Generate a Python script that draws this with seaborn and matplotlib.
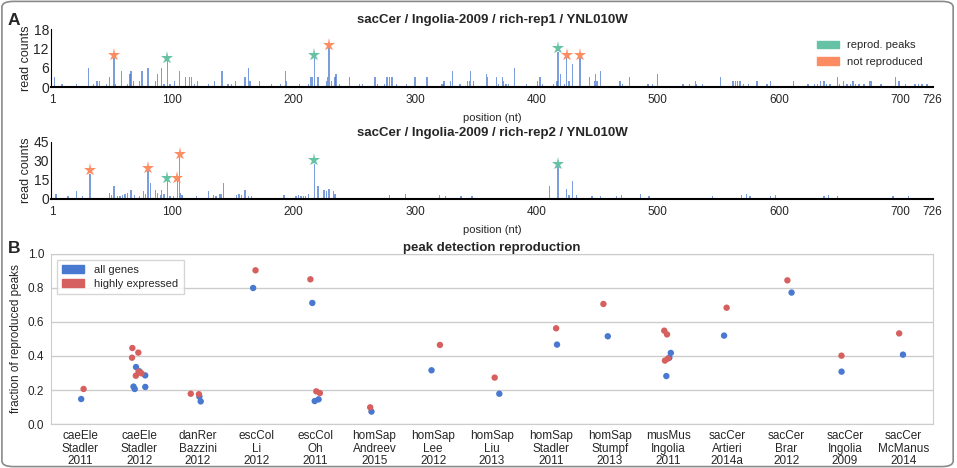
import numpy as np
import pandas as pd
import seaborn as sns
import matplotlib.pyplot as plt
from matplotlib.patches import Patch, FancyBboxPatch

sns.set_style("white")
plt.rcParams["font.family"] = ["Liberation Sans", "DejaVu Sans"]

BLUE = "#4878CF"
RED = "#D65F5F"
GREEN = "#66c2a5"
ORANGE = "#fc8d62"

# ---- panel A data: read counts per position (nt) ----
rep1_pos = [3, 9, 21, 31, 35, 38, 40, 46, 48, 52, 53, 58, 63, 65, 66, 68, 73, 75, 80, 86,
            88, 91, 93, 96, 98, 102, 106, 111, 114, 116, 118, 121, 130, 135, 141, 146, 149,
            152, 160, 163, 164, 172, 182, 189, 193, 194, 205, 212, 214, 215, 217, 220, 227,
            228, 229, 231, 234, 235, 238, 246, 254, 257, 267, 269, 275, 277, 279, 281, 285,
            293, 300, 310, 322, 323, 324, 329, 331, 337, 343, 345, 346, 348, 359, 360, 367,
            369, 372, 373, 375, 377, 382, 392, 401, 403, 405, 414, 417, 418, 420, 423, 425,
            427, 430, 436, 444, 448, 449, 450, 453, 469, 471, 477, 492, 496, 500, 521, 526,
            531, 532, 537, 552, 562, 564, 566, 568, 571, 575, 582, 590, 593, 612, 624, 629,
            632, 634, 637, 639, 642, 648, 650, 653, 656, 659, 661, 663, 666, 670, 675, 676,
            684, 696, 699, 704, 712, 715, 718, 722]
rep1_cnt = [3, 1, 1, 6, 1, 2, 2, 1, 3, 9, 1, 5, 1, 4, 5, 2, 2, 5, 6, 2,
            4, 6, 1, 8, 1, 2, 5, 3, 3, 3, 1, 2, 1, 2, 5, 1, 1,
            2, 3, 6, 2, 2, 1, 1, 5, 2, 1, 1, 3, 3, 9, 3, 2,
            3, 12, 2, 3, 4, 1, 3, 1, 1, 3, 1, 1, 3, 3, 3, 1,
            1, 3, 3, 1, 1, 2, 2, 5, 1, 2, 2, 5, 2, 4, 3, 3,
            1, 3, 2, 1, 1, 6, 1, 2, 3, 1, 1, 2, 11, 4, 1, 9,
            2, 7, 9, 3, 2, 4, 2, 5, 2, 1, 3, 1, 1, 4, 1, 1,
            2, 1, 1, 3, 2, 2, 2, 2, 1, 1, 2, 1, 2, 2, 1, 1,
            1, 2, 2, 1, 1, 3, 1, 2, 1, 1, 2, 1, 1, 1, 2, 2,
            1, 3, 2, 1, 1, 1, 1, 1]
rep1_reprod = [96, 217, 418]
rep1_notrep = [52, 229, 425, 436]

rep2_pos = [4, 7, 10, 14, 17, 21, 26, 28, 32, 36, 40, 43, 46, 48, 50, 52, 55, 57, 59, 61,
            63, 66, 69, 73, 76, 78, 80, 82, 86, 88, 90, 91, 93, 96, 98, 101, 104, 106, 107,
            108, 114, 117, 120, 130, 134, 136, 139, 140, 142, 150, 153, 155, 157, 160, 163,
            165, 168, 175, 183, 192, 198, 202, 204, 206, 208, 210, 212, 214, 217, 220, 225,
            227, 229, 233, 234, 238, 244, 250, 255, 260, 266, 272, 279, 285, 292, 296, 300,
            305, 310, 315, 320, 325, 330, 336, 338, 342, 347, 352, 358, 366, 372, 380, 388,
            395, 403, 407, 411, 418, 425, 427, 430, 433, 438, 446, 449, 453, 462, 466, 470,
            475, 486, 489, 493, 496, 500, 507, 515, 522, 530, 538, 545, 548, 555, 563, 569,
            573, 576, 583, 588, 593, 597, 605, 612, 618, 625, 630, 637, 641, 644, 648, 655,
            662, 670, 680, 689, 694, 700, 707, 712, 716, 719, 722, 724]
rep2_cnt = [4, 1, 1, 2, 1, 6, 2, 1, 20, 1, 1, 1, 1, 5, 3, 10, 2, 2, 3, 4,
            5, 7, 3, 2, 6, 4, 22, 13, 7, 5, 3, 7, 4, 14, 2, 2, 14, 33, 5,
            3, 1, 1, 2, 6, 3, 2, 4, 4, 13, 1, 3, 4, 3, 7, 2,
            2, 1, 1, 1, 3, 1, 2, 3, 2, 2, 2, 4, 1, 28, 10, 7,
            6, 8, 6, 4, 1, 1, 1, 1, 1, 1, 1, 3, 1, 4, 1, 1,
            1, 1, 1, 3, 2, 1, 1, 2, 1, 2, 1, 1, 1, 1, 1, 1,
            1, 1, 1, 10, 25, 8, 3, 14, 3, 1, 2, 1, 2, 1, 2, 3,
            1, 4, 1, 2, 1, 1, 1, 1, 1, 1, 1, 2, 1, 1, 1, 3,
            4, 2, 1, 1, 2, 3, 1, 1, 1, 1, 1, 2, 3, 1, 2, 1,
            1, 1, 1, 1, 2, 1, 2, 1, 1, 1, 1, 1]
rep2_reprod = [96, 217, 418]
rep2_notrep = [32, 80, 104, 106]

pos_ticks = [1, 100, 200, 300, 400, 500, 600, 700, 726]

# ---- panel B data ----
studies = ["caeEle\nStadler\n2011", "caeEle\nStadler\n2012", "danRer\nBazzini\n2012",
           "escCol\nLi\n2012", "escCol\nOh\n2011", "homSap\nAndreev\n2015",
           "homSap\nLee\n2012", "homSap\nLiu\n2013", "homSap\nStadler\n2011",
           "homSap\nStumpf\n2013", "musMus\nIngolia\n2011", "sacCer\nArtieri\n2014a",
           "sacCer\nBrar\n2012", "sacCer\nIngolia\n2009", "sacCer\nMcManus\n2014"]
all_genes = [[0.147], [0.335, 0.31, 0.286, 0.218, 0.22, 0.206], [0.133, 0.161],
             [0.80], [0.712, 0.145, 0.135], [0.073], [0.316], [0.178], [0.467],
             [0.516], [0.418, 0.39, 0.282], [0.520], [0.773], [0.308], [0.408]]
highly_expr = [[0.206], [0.447, 0.42, 0.39, 0.308, 0.298, 0.284], [0.178, 0.175],
               [0.904], [0.851, 0.192, 0.182], [0.098], [0.465], [0.273], [0.563],
               [0.706], [0.549, 0.527, 0.385, 0.373], [0.684], [0.845], [0.402], [0.533]]

rows = []
for s, a, h in zip(studies, all_genes, highly_expr):
    rows += [(s, v, "all genes") for v in a]
    rows += [(s, v, "highly expressed") for v in h]
df = pd.DataFrame(rows, columns=["study", "fraction", "set"])

fig = plt.figure(figsize=(9.57, 4.68), dpi=100)
ax1 = fig.add_axes([0.0533, 0.814, 0.9217, 0.124])
ax2 = fig.add_axes([0.0533, 0.5748, 0.9217, 0.1218])
ax3 = fig.add_axes([0.0533, 0.094, 0.9217, 0.3633])


def plot_track(ax, pos, cnt, reprod, notrep, ymax, title):
    ax.bar(pos, cnt, width=1.1, color=BLUE, alpha=0.72, linewidth=0)
    h = dict(zip(pos, cnt))
    off = 0.06 * ymax
    ax.plot(reprod, [h[p] + off for p in reprod], "*", color=GREEN, ms=9.5, mew=0)
    ax.plot(notrep, [h[p] + off for p in notrep], "*", color=ORANGE, ms=9.5, mew=0)
    ax.set_xlim(0, 727)
    ax.set_ylim(0, ymax)
    ax.set_yticks(np.linspace(0, ymax, 4))
    ax.set_xticks(pos_ticks)
    sns.despine(ax=ax)
    for sp in ["left", "bottom"]:
        ax.spines[sp].set_color("black")
    ax.spines["bottom"].set_linewidth(1.5)
    ax.tick_params(length=0)
    ax.tick_params(axis="y", labelsize=10, pad=1.5)
    ax.tick_params(axis="x", labelsize=8.5, pad=5)
    ax.set_ylabel("read counts", fontsize=9, labelpad=1)
    ax.set_xlabel("position (nt)", fontsize=8, labelpad=5)
    ax.set_title(title, fontsize=9.5, fontweight="bold", pad=4.5)


plot_track(ax1, rep1_pos, rep1_cnt, rep1_reprod, rep1_notrep, 18,
           "sacCer / Ingolia-2009 / rich-rep1 / YNL010W")
plot_track(ax2, rep2_pos, rep2_cnt, rep2_reprod, rep2_notrep, 45,
           "sacCer / Ingolia-2009 / rich-rep2 / YNL010W")
ax1.legend(handles=[Patch(color=GREEN, label="reprod. peaks"),
                    Patch(color=ORANGE, label="not reproduced")],
           loc="upper right", bbox_to_anchor=(0.993, 0.88), borderaxespad=0,
           frameon=False, fontsize=8, handlelength=2.0, handleheight=0.7,
           handletextpad=0.7, labelspacing=0.55)

np.random.seed(3)
sns.stripplot(data=df, x="study", y="fraction", hue="set", order=studies,
              hue_order=["all genes", "highly expressed"], palette=[BLUE, RED],
              jitter=0.13, size=4.6, linewidth=0, legend=False, ax=ax3)
ax3.set_xlim(-0.5, len(studies) - 0.5)
ax3.set_ylim(0, 1.0)
ax3.set_yticks(np.arange(0, 1.01, 0.2))
ax3.set_yticklabels([f"{v:.1f}" for v in np.arange(0, 1.01, 0.2)])
ax3.yaxis.grid(True, color="#cccccc", lw=1)
ax3.set_axisbelow(True)
for sp in ax3.spines.values():
    sp.set_color("#cccccc")
ax3.tick_params(length=0)
ax3.tick_params(axis="y", labelsize=8.5, pad=5)
ax3.tick_params(axis="x", labelsize=8.5, pad=4.5)
ax3.set_xlabel("")
ax3.set_ylabel("fraction of reproduced peaks", fontsize=8.5, labelpad=4)
ax3.set_title("peak detection reproduction", fontsize=9.5, fontweight="bold", pad=2.5)
for t in ax3.get_xticklabels():
    t.set_linespacing(1.05)
ax3.legend(handles=[Patch(color=BLUE, label="all genes"),
                    Patch(color=RED, label="highly expressed")],
           loc="upper left", bbox_to_anchor=(0.007, 0.965), borderaxespad=0,
           frameon=True, fancybox=False, edgecolor="#cccccc", fontsize=8,
           borderpad=0.45, handlelength=2.0, handleheight=0.7,
           handletextpad=0.9, labelspacing=0.35)

fig.text(0.008, 0.957, "A", fontsize=12.5, fontweight="bold", va="center")
fig.text(0.008, 0.469, "B", fontsize=12.5, fontweight="bold", va="center")
fig.patches.append(FancyBboxPatch((0.002, 0.003), 0.994, 0.994,
                                  boxstyle="round,pad=0,rounding_size=0.012",
                                  transform=fig.transFigure, fill=False,
                                  edgecolor="#8a8a8a", lw=1.2))

fig.savefig("out.png", dpi=100)
